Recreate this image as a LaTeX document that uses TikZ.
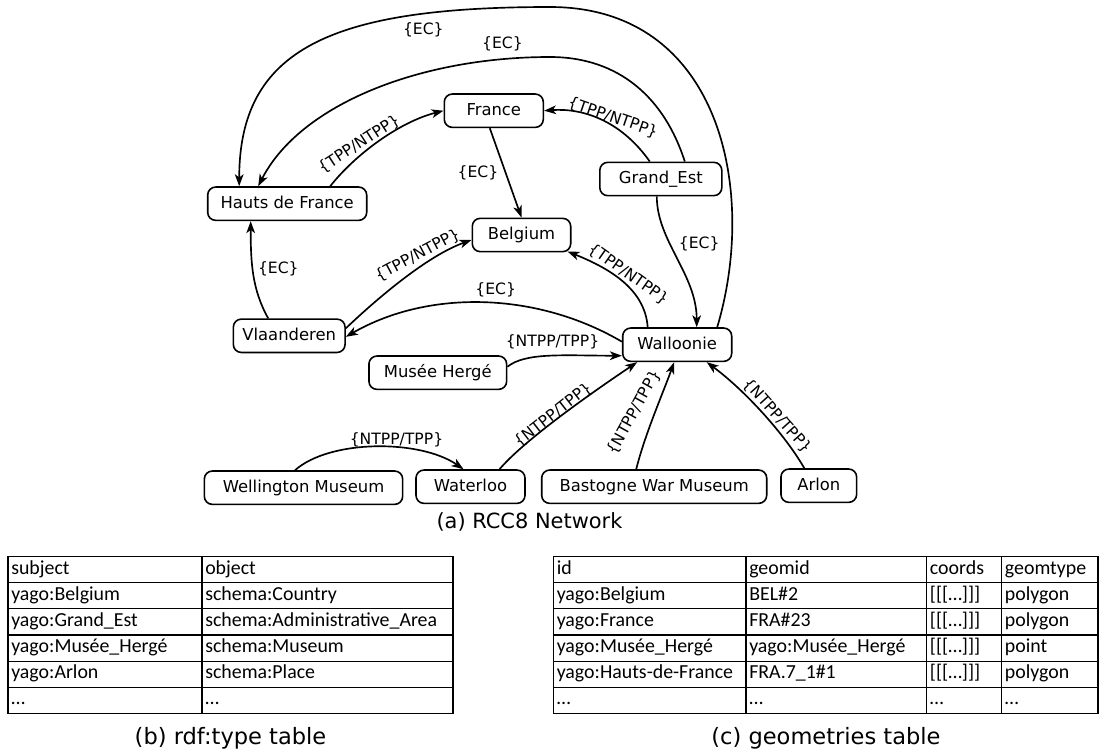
\documentclass[tikz,border=0pt]{standalone}
\usepackage{fontspec}
\setmainfont{DejaVu Sans}
\newfontfamily\tabfont{Carlito}
\usetikzlibrary{arrows.meta,calc}

\begin{document}
\begin{tikzpicture}[x=0.75pt,y=-0.75pt,
  region/.style={draw, line width=1.2pt, rounded corners=6pt, inner sep=0pt,
    minimum height=25pt, minimum width=#1*0.75pt,
    font=\fontsize{12.3}{14}\selectfont, text height=0.73em, text depth=0pt},
  rlab/.style={inner sep=0pt, font=\fontsize{11.7}{13}\selectfont,
    text height=0.73em, text depth=0pt},
  link/.style={line width=1.25pt, -{Stealth[length=9pt,width=6.5pt,inset=2.5pt]}},
  tcell/.style={anchor=base west, inner sep=0pt, font=\tabfont\fontsize{14.9}{16}\selectfont},
  gridline/.style={line width=0.8pt},
  captext/.style={inner sep=0pt, font=\fontsize{#1}{#1}\selectfont}]

\useasboundingbox (0,0) rectangle (1104,753);
\fill[white] (0,0) rectangle (1104,753);

% ---------- RCC8 network: regions ----------
\node[region=99]    (france)     at (493.8,110.7) {France};
\node[region=159]   (hdf)        at (287.2,203.7) {Hauts de France};
\node[region=122]   (grandest)   at (660.8,179)   {Grand\_Est};
\node[region=98.4]  (belgium)    at (521.5,235)   {Belgium};
\node[region=111.7] (vlaanderen) at (289.2,335.8) {Vlaanderen};
\node[region=109]   (wallonie)   at (677.2,344.7) {Walloonie};
\node[region=137.7] (musee)      at (437.8,372.7) {Musée Hergé};
\node[region=198.3] (wellington) at (303.5,487.7) {Wellington Museum};
\node[region=109]   (waterloo)   at (470.5,486.7) {Waterloo};
\node[region=225]   (bastogne)   at (654.2,486.7) {Bastogne War Museum};
\node[region=75.7]  (arlon)      at (818.8,485.7) {Arlon};

% via points of the two long arcs over the top
\coordinate (ectop) at (550,7);
\coordinate (ecmid) at (550,57);

% ---------- relations ----------
\draw[link] ($(wallonie.north)+(40,0)$) .. controls +(41,-137.7) and +(170,0) .. (ectop)
            .. controls +(-220,0) and +(0,-136.7) .. ($(hdf.north)+(-48,0)$);
\draw[link] ($(grandest.north)+(24,0)$) .. controls +(-20,-62.5) and +(70,0) .. (ecmid)
            .. controls +(-130,0) and +(41.8,-81.7) .. ($(hdf.north)+(-29,0)$);
\draw[link] ($(grandest.north)+(-11,0)$) .. controls +(-30,-42.5) and +(36.7,-2.7) .. (france.east);
\draw[link] ($(hdf.north)+(43,0)$) .. controls +(25,-31.7) and +(-44.3,11.3) .. (france.west);
\draw[link] ($(france.south)+(-4,0)$) -- (belgium.north);
\draw[link] ($(vlaanderen.north)+(-21,0)$) .. controls +(-16.2,-29) and +(0,41.3) .. ($(hdf.south)+(-36.5,0)$);
\draw[link] ($(vlaanderen.east)+(0,-7.5)$) .. controls +(35,-33.3) and +(-42.3,15) .. ($(belgium.west)+(0,5)$);
\draw[link] ($(wallonie.north)+(-29.5,0)$) .. controls +(-2.7,-37.7) and +(43,17.3) .. ($(belgium.south east)+(-4,-1)$);
\draw[link] ($(grandest.south)+(-4,0)$) .. controls +(0,44.5) and +(0,-52.7) .. ($(wallonie.north)+(19.5,0)$);
\draw[link] ($(wallonie.west)+(0,-3)$) .. controls +(-82.7,-48.7) and +(85,-48.7) .. ($(vlaanderen.east)+(0,1)$);
\draw[link] ($(musee.east)+(0,-6)$) .. controls +(18.4,-14.7) and +(-57,0) .. ($(wallonie.west)+(0,11)$);
\draw[link] ($(wellington.north)+(-8.5,0)$) .. controls +(35,-31) and +(-43.5,-30) .. ($(waterloo.north)+(-7,0)$);
\draw[link] ($(waterloo.north)+(29,0)$) .. controls +(25.5,-30) and +(-42.2,28.3) .. ($(wallonie.south)+(-40,0)$);
\draw[link] ($(bastogne.north)+(-18,0)$) .. controls +(8.8,-35) and +(-12.2,33.3) .. ($(wallonie.south)+(-3,0)$);
\draw[link] ($(arlon.north)+(-14.5,0)$) .. controls +(-19.3,-33.7) and +(38.3,28.3) .. ($(wallonie.south)+(29.5,0)$);

% ---------- relation labels ----------
\node[rlab]            (l1)  at (423.3,30)    {\{EC\}};
\node[rlab]            (l2)  at (502.5,43.3)  {\{EC\}};
\node[rlab,rotate=-19] (l3)  at (613,117.5)   {\{TPP/NTPP\}};
\node[rlab,rotate=33]  (l4)  at (359,144)     {\{TPP/NTPP\}};
\node[rlab]            (l5)  at (478,172.5)   {\{EC\}};
\node[rlab]            (l6)  at (699.2,243.3) {\{EC\}};
\node[rlab]            (l7)  at (278.3,268.3) {\{EC\}};
\node[rlab,rotate=28]  (l8)  at (417.5,255)   {\{TPP/NTPP\}};
\node[rlab,rotate=-35] (l9)  at (628.3,274)   {\{TPP/NTPP\}};
\node[rlab]            (l10) at (495.7,289.2) {\{EC\}};
\node[rlab]            (l11) at (552.5,342)   {\{NTPP/TPP\}};
\node[rlab]            (l12) at (396.5,440)   {\{NTPP/TPP\}};
\node[rlab,rotate=38]  (l13) at (553,415)     {\{NTPP/TPP\}};
\node[rlab,rotate=61]  (l14) at (634,412.5)   {\{NTPP/TPP\}};
\node[rlab,rotate=-48] (l15) at (777.5,415.8) {\{NTPP/TPP\}};

\node[captext=15.7] (capa) at (529.5,521.7) {(a) RCC8 Network};

% ---------- rdf:type table ----------
\draw[gridline] (8,556.7) rectangle (453,713.3);
\draw[gridline] (202,556.7) -- (202,713.3);
\foreach \k in {1,...,5}
  \draw[gridline] (8,{556.7+26.1*\k}) -- (453,{556.7+26.1*\k});
\foreach \r/\pa/\pb in {0/subject/object,
    1/yago:Belgium/schema:Country,
    2/yago:Grand\_Est/schema:Administrative\_Area,
    3/yago:Musée\_Hergé/schema:Museum,
    4/yago:Arlon/schema:Place,
    5/…/…}{
  \node[tcell] (b\r a) at (11,{556.7+26.1*\r+17.5}) {\pa};
  \node[tcell] (b\r b) at (205,{556.7+26.1*\r+17.5}) {\pb};
}
\node[captext=16.9] (capb) at (230.5,738) {(b) rdf:type table};

% ---------- geometries table ----------
\draw[gridline] (553.5,556.7) rectangle (1098,713.3);
\foreach \cx in {746,926.7,1001.7}
  \draw[gridline] (\cx,556.7) -- (\cx,713.3);
\foreach \k in {1,...,5}
  \draw[gridline] (553.5,{556.7+26.1*\k}) -- (1098,{556.7+26.1*\k});
\foreach \r/\pa/\pb/\pc/\pd in {0/id/geomid/coords/geomtype,
    1/yago:Belgium/BEL\#2/[[[…]]]/polygon,
    2/yago:France/FRA\#23/[[[…]]]/polygon,
    3/yago:Musée\_Hergé/yago:Musée\_Hergé/[[[…]]]/point,
    4/yago:Hauts-de-France/FRA.7\_1\#1/[[[…]]]/polygon,
    5/…/…/…/…}{
  \node[tcell] (c\r a) at (556.5,{556.7+26.1*\r+17.5}) {\pa};
  \node[tcell] (c\r b) at (749,{556.7+26.1*\r+17.5}) {\pb};
  \node[tcell] (c\r c) at (929.7,{556.7+26.1*\r+17.5}) {\pc};
  \node[tcell] (c\r d) at (1004.7,{556.7+26.1*\r+17.5}) {\pd};
}
\node[captext=16.9] (capc) at (826,738) {(c) geometries table};
\end{tikzpicture}
\end{document}
